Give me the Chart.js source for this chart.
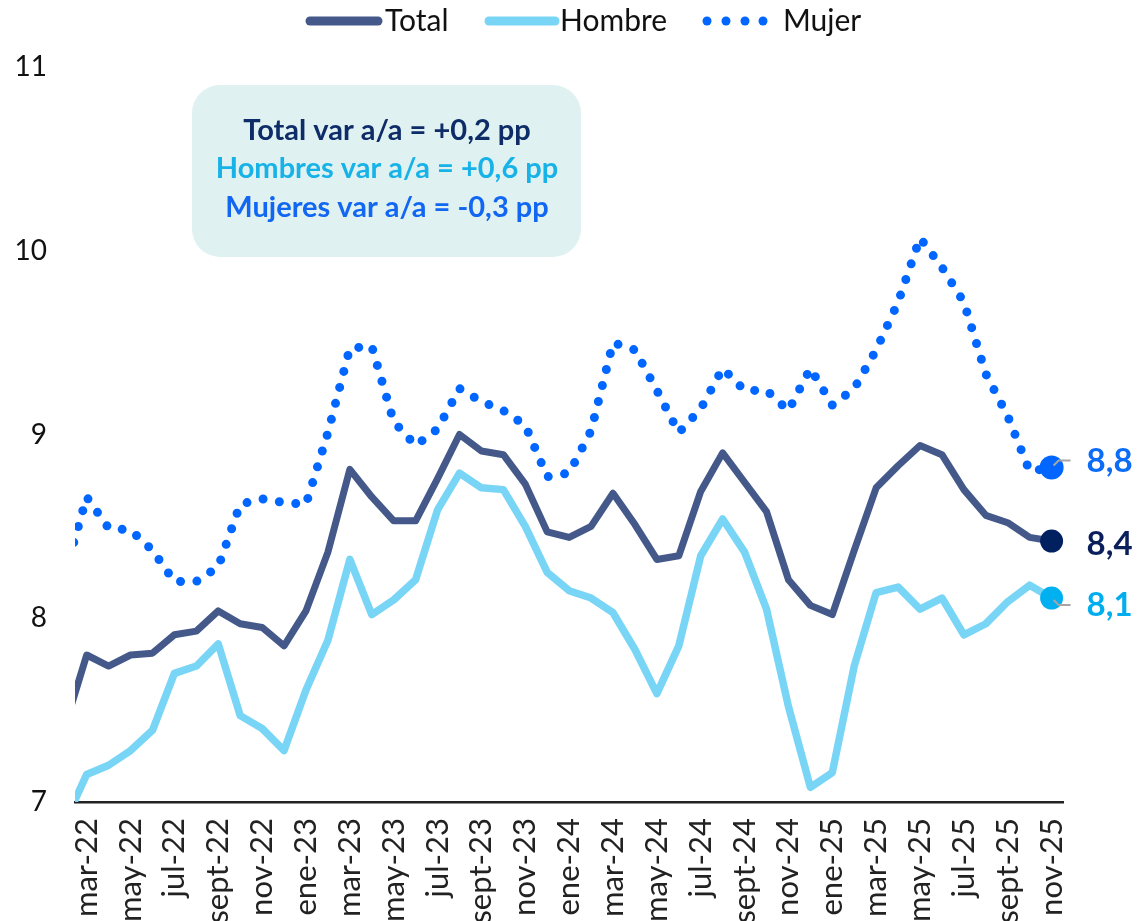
<!DOCTYPE html>
<html>
<head>
<meta charset="utf-8">
<script src="https://cdn.jsdelivr.net/npm/chart.js@4.4.1/dist/chart.umd.min.js"></script>
<style>
  html, body { margin: 0; padding: 0; background: #fff; }
  #wrap { width: 1137px; height: 921px; }
</style>
</head>
<body>
<div id="wrap"><canvas id="chart" width="1137" height="921"></canvas></div>
<script>
// Meses (feb-22 queda fuera del eje, solo se ve el tramo que entra)
const months = [
  'feb-22', 'mar-22', 'abr-22', 'may-22', 'jun-22', 'jul-22', 'ago-22', 'sept-22', 'oct-22', 'nov-22', 'dic-22',
  'ene-23', 'feb-23', 'mar-23', 'abr-23', 'may-23', 'jun-23', 'jul-23', 'ago-23', 'sept-23', 'oct-23', 'nov-23', 'dic-23',
  'ene-24', 'feb-24', 'mar-24', 'abr-24', 'may-24', 'jun-24', 'jul-24', 'ago-24', 'sept-24', 'oct-24', 'nov-24', 'dic-24',
  'ene-25', 'feb-25', 'mar-25', 'abr-25', 'may-25', 'jun-25', 'jul-25', 'ago-25', 'sept-25', 'oct-25', 'nov-25'
];

const total = [
  7.41, 7.80, 7.74, 7.80, 7.81, 7.91, 7.93, 8.04, 7.97, 7.95, 7.85,
  8.04, 8.36, 8.81, 8.66, 8.53, 8.53, 8.76, 9.00, 8.91, 8.89, 8.73, 8.47,
  8.44, 8.50, 8.68, 8.51, 8.32, 8.34, 8.69, 8.90, 8.74, 8.58, 8.21, 8.07,
  8.02, 8.37, 8.71, 8.83, 8.94, 8.89, 8.70, 8.56, 8.52, 8.44, 8.42
];

const hombre = [
  6.89, 7.15, 7.20, 7.28, 7.39, 7.70, 7.74, 7.86, 7.47, 7.40, 7.28,
  7.61, 7.88, 8.32, 8.02, 8.10, 8.21, 8.59, 8.79, 8.71, 8.70, 8.50, 8.25,
  8.15, 8.11, 8.03, 7.83, 7.59, 7.85, 8.34, 8.54, 8.36, 8.05, 7.52, 7.08,
  7.16, 7.74, 8.14, 8.17, 8.05, 8.11, 7.91, 7.97, 8.09, 8.18, 8.11
];

const mujer = [
  8.24, 8.66, 8.49, 8.48, 8.37, 8.20, 8.20, 8.28, 8.62, 8.65, 8.63,
  8.62, 9.01, 9.47, 9.48, 9.07, 8.94, 9.03, 9.25, 9.18, 9.13, 9.05, 8.77,
  8.79, 9.02, 9.50, 9.46, 9.24, 9.01, 9.14, 9.36, 9.24, 9.24, 9.13, 9.36,
  9.16, 9.25, 9.46, 9.72, 10.07, 9.91, 9.72, 9.33, 9.10, 8.80, 8.82
];

const yTicks = [7, 8, 9, 10, 11];
const boxLines = [
  { text: 'Total var a/a = +0,2 pp', color: '#0d2c68' },
  { text: 'Hombres var a/a = +0,6 pp', color: '#16b2e8' },
  { text: 'Mujeres var a/a = -0,3 pp', color: '#1267f2' }
];

const FONT = 'Lato, "Open Sans", sans-serif';
const last = months.length - 1;
const toPoints = arr => arr.map((v, i) => ({ x: i, y: v }));
const endOnly = r => ctx => ctx.dataIndex === last ? r : 0;

const overlay = {
  id: 'overlay',
  afterDraw(chart) {
    const { ctx, scales: { x, y } } = chart;
    ctx.save();

    // Leyenda
    ctx.font = '30px ' + FONT;
    ctx.textBaseline = 'middle';
    ctx.fillStyle = '#111';
    ctx.lineCap = 'round';
    ctx.lineWidth = 9;
    ctx.strokeStyle = '#44598a';
    ctx.beginPath(); ctx.moveTo(310, 21); ctx.lineTo(378, 21); ctx.stroke();
    ctx.fillText('Total', 385, 21);
    ctx.strokeStyle = '#79d5f5';
    ctx.beginPath(); ctx.moveTo(489, 21); ctx.lineTo(555, 21); ctx.stroke();
    ctx.fillText('Hombre', 560, 21);
    ctx.fillStyle = '#0066ff';
    [707, 726, 745, 763].forEach(cx => {
      ctx.beginPath(); ctx.arc(cx, 21, 4.5, 0, Math.PI * 2); ctx.fill();
    });
    ctx.fillStyle = '#111';
    ctx.fillText('Mujer', 783, 21);

    // Recuadro de variaciones
    ctx.fillStyle = '#dff1f0';
    ctx.beginPath();
    ctx.roundRect(192, 85, 389, 172, 28);
    ctx.fill();
    ctx.font = 'bold 29px ' + FONT;
    ctx.textAlign = 'center';
    [131, 169, 208].forEach((ty, i) => {
      ctx.fillStyle = boxLines[i].color;
      ctx.fillText(boxLines[i].text, 387, ty);
    });

    // Etiquetas del último dato
    const ends = [
      { data: mujer, color: '#0a6cf7', dy: -6, leader: -1 },
      { data: total, color: '#0b1f5c', dy: 3, leader: 0 },
      { data: hombre, color: '#00aeef', dy: 7, leader: 1 }
    ];
    ctx.textAlign = 'left';
    ctx.font = 'bold 33px ' + FONT;
    ends.forEach(e => {
      const v = e.data[last];
      const px = x.getPixelForValue(last);
      const py = y.getPixelForValue(v);
      if (e.leader) {
        ctx.strokeStyle = '#a6a6a6';
        ctx.lineWidth = 2;
        ctx.lineCap = 'butt';
        ctx.beginPath();
        ctx.moveTo(px + 2, py + 2 * e.leader);
        ctx.lineTo(px + 7, py + 7 * e.leader);
        ctx.lineTo(px + 19, py + 7 * e.leader);
        ctx.stroke();
      }
      ctx.fillStyle = e.color;
      ctx.fillText(v.toFixed(1).replace('.', ','), px + 35, py + e.dy);
    });

    ctx.restore();
  }
};

new Chart(document.getElementById('chart'), {
  type: 'line',
  data: {
    datasets: [
      {
        label: 'Total',
        data: toPoints(total),
        borderColor: '#44598a',
        borderWidth: 7,
        borderJoinStyle: 'round',
        pointRadius: endOnly(11.5),
        pointBackgroundColor: '#002060',
        pointBorderWidth: 0,
        clip: { left: 0, top: false, right: false, bottom: 0 }
      },
      {
        label: 'Hombre',
        data: toPoints(hombre),
        borderColor: '#79d5f5',
        borderWidth: 7.5,
        borderJoinStyle: 'round',
        pointRadius: endOnly(11.5),
        pointBackgroundColor: '#00b0f0',
        pointBorderWidth: 0,
        clip: { left: 0, top: false, right: false, bottom: 0 }
      },
      {
        label: 'Mujer',
        data: toPoints(mujer),
        borderColor: '#0066ff',
        borderWidth: 9,
        borderDash: [0, 16.5],
        borderCapStyle: 'round',
        borderJoinStyle: 'round',
        pointRadius: endOnly(12),
        pointBackgroundColor: '#0066ff',
        pointBorderWidth: 0,
        clip: { left: 0, top: false, right: false, bottom: 0 }
      }
    ]
  },
  options: {
    responsive: false,
    animation: false,
    events: [],
    devicePixelRatio: 1,
    layout: { padding: { top: 67, right: 74, left: 0, bottom: 0 } },
    plugins: {
      legend: { display: false },
      tooltip: { enabled: false }
    },
    scales: {
      x: {
        type: 'linear',
        min: 0.467,
        max: 45.52,
        grid: { display: false, drawTicks: false },
        border: { display: true, color: '#222', width: 2.5 },
        afterBuildTicks: s => {
          s.ticks = months.map((m, i) => i).filter(i => i % 2 === 1).map(v => ({ value: v }));
        },
        afterFit: s => { s.height = 119; },
        ticks: {
          autoSkip: false,
          minRotation: 90,
          maxRotation: 90,
          padding: 16,
          color: '#222',
          font: { family: FONT, size: 31 },
          callback: v => months[v]
        }
      },
      y: {
        min: 7,
        max: 11,
        grid: { display: false, drawTicks: false },
        border: { display: false },
        afterBuildTicks: s => { s.ticks = yTicks.map(v => ({ value: v })); },
        afterFit: s => { s.width = 75; },
        ticks: {
          padding: 28,
          color: '#111',
          font: { family: FONT, size: 28 }
        }
      }
    }
  },
  plugins: [overlay]
});
</script>
</body>
</html>
